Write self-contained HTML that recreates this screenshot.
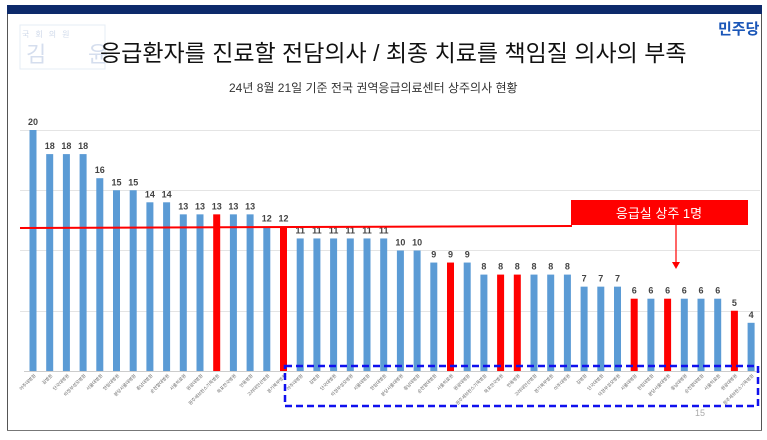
<!DOCTYPE html>
<html><head><meta charset="utf-8"><style>
body{margin:0;width:767px;height:435px;background:#fff;overflow:hidden;font-family:"Liberation Sans","Noto Sans CJK KR",sans-serif}
</style></head><body>
<svg width="767" height="435" xmlns="http://www.w3.org/2000/svg" font-family="Liberation Sans, Noto Sans CJK KR, sans-serif">
<rect x="7" y="5" width="755" height="9" fill="#0d2a6b"/>
<line x1="7.5" y1="14" x2="7.5" y2="430" stroke="#555"/>
<line x1="761.5" y1="14" x2="761.5" y2="430" stroke="#555"/>
<line x1="7" y1="430.5" x2="762" y2="430.5" stroke="#777"/>
<rect x="20" y="25" width="85" height="44" fill="none" stroke="#e6ecf5"/>
<text x="22" y="37" font-size="8" fill="#cfd9ea" letter-spacing="6">국회의원</text>
<text x="26" y="62" font-size="22" fill="#d5deee">김</text>
<text x="88" y="62" font-size="22" fill="#d5deee">윤</text>
<text x="100" y="61" font-size="23" fill="#111">응급환자를 진료할 전담의사 / 최종 치료를 책임질 의사의 부족</text>
<text x="229" y="92" font-size="12" fill="#333">24년 8월 21일 기준 전국 권역응급의료센터 상주의사 현황</text>
<text x="718" y="34" font-size="15" font-weight="bold" fill="#1a56b8">민주당</text>
<g stroke="#e4e4e4">
<line x1="20" y1="130.5" x2="760" y2="130.5"/>
<line x1="20" y1="190.5" x2="760" y2="190.5"/>
<line x1="20" y1="250.5" x2="760" y2="250.5"/>
<line x1="20" y1="311.5" x2="760" y2="311.5"/>
<line x1="24" y1="371.5" x2="760" y2="371.5" stroke="#ccc"/>
</g>
<g id="bars" font-size="9" font-weight="bold" fill="#444" text-anchor="middle"></g>
<g id="lbl" font-size="4.5" fill="#666"></g>
<line x1="20" y1="228" x2="572" y2="226" stroke="#f00" stroke-width="2"/>
<rect x="571" y="200" width="177" height="25" fill="#f00"/>
<text x="659" y="218" font-size="13" fill="#fff" text-anchor="middle">응급실 상주 1명</text>
<line x1="676" y1="225" x2="676" y2="263" stroke="#f00" stroke-width="1.2"/>
<polygon points="672,262 680,262 676,269" fill="#f00"/>
<rect x="285" y="366" width="473" height="40" fill="none" stroke="#1010ee" stroke-width="2.5" stroke-dasharray="7,4"/>
<text x="695" y="416" font-size="9" fill="#aaa">15</text>
</svg>
<script>
var v=[20,18,18,18,16,15,15,14,14,13,13,13,13,13,12,12,11,11,11,11,11,11,10,10,9,9,9,8,8,8,8,8,8,7,7,7,6,6,6,6,6,6,5,4];
var red=[11,15,25,28,29,36,38,42];
var names=["아주대병원","길병원","단국대병원","의정부성모병원","서울대병원","한림대병원","분당서울대병원","충남대병원","순천향대병원","서울의료원","원광대병원","원주세브란스기독병원","목포한국병원","안동병원","고려대안산병원","경기북부병원"];
var g=document.getElementById('bars'),l=document.getElementById('lbl'),ns="http://www.w3.org/2000/svg";
v.forEach(function(d,i){var x=33+i*16.7,h=d*12.05,y=371-h;
var r=document.createElementNS(ns,'rect');r.setAttribute('x',x-3.5);r.setAttribute('y',y);r.setAttribute('width',7);r.setAttribute('height',h);r.setAttribute('fill',red.indexOf(i)>=0?'#f00':'#5b9bd5');g.appendChild(r);
var t=document.createElementNS(ns,'text');t.setAttribute('x',x);t.setAttribute('y',y-5);t.textContent=d;g.appendChild(t);
var s=document.createElementNS(ns,'text');s.setAttribute('x',x+3);s.setAttribute('y',376);s.setAttribute('text-anchor','end');s.setAttribute('transform','rotate(-45 '+(x+3)+' 376)');s.textContent=names[i%names.length];l.appendChild(s);});
</script>
</body></html>
